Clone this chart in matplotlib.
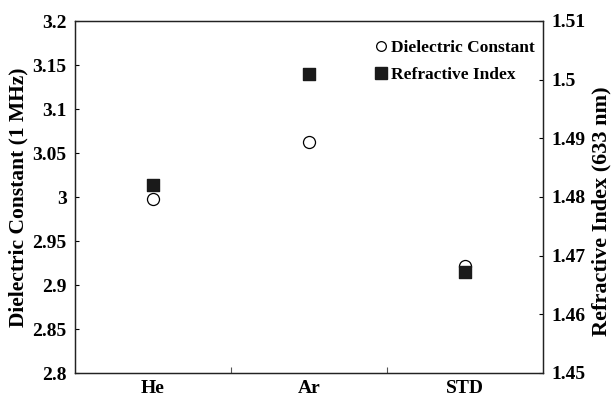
import matplotlib.pyplot as plt
from matplotlib.lines import Line2D

# gases / films
samples = ['He', 'Ar', 'STD']
dielectric_const = [2.998, 3.062, 2.922]   # at 1 MHz
refractive_index = [1.482, 1.501, 1.4673]  # at 633 nm

plt.rcParams['font.family'] = 'Liberation Serif'
plt.rcParams['font.weight'] = 'bold'

fig = plt.figure(figsize=(6.11, 4.0), dpi=100)
ax = fig.add_axes([0.1227, 0.0675, 0.766, 0.88])
ax2 = ax.twinx()

xpos = [i + 0.5 for i in range(len(samples))]

ax.scatter(xpos, dielectric_const, marker='o', s=75, facecolors='white',
           edgecolors='black', linewidths=0.9, zorder=3)
ax2.scatter(xpos, refractive_index, marker='s', s=85, color='#1a1a1a', zorder=2)

ax.set_xlim(0, 3)
ax.set_ylim(2.8, 3.2)
ax2.set_ylim(1.45, 1.51)

ax.set_yticks([2.8, 2.85, 2.9, 2.95, 3.0, 3.05, 3.1, 3.15, 3.2])
ax.set_yticklabels(['2.8', '2.85', '2.9', '2.95', '3', '3.05', '3.1', '3.15', '3.2'])
ax2.set_yticks([1.45, 1.46, 1.47, 1.48, 1.49, 1.5, 1.51])
ax2.set_yticklabels(['1.45', '1.46', '1.47', '1.48', '1.49', '1.5', '1.51'])

# category separators on the bottom axis, names centred below
ax.set_xticks([1, 2])
ax.set_xticklabels([])
ax.set_xticks(xpos, minor=True)
ax.set_xticklabels(samples, minor=True)
ax.tick_params(axis='x', which='minor', length=0, pad=5, labelsize=14)
ax.tick_params(axis='x', which='major', direction='in', length=4, width=0.8, color='#555555')

ax.tick_params(axis='y', direction='in', length=3, width=0.8, labelsize=14, pad=6)
ax2.tick_params(axis='y', direction='in', length=3, width=0.8, labelsize=14, pad=6)

for a in (ax, ax2):
    for sp in a.spines.values():
        sp.set_linewidth(0.9)
        sp.set_color('#222222')

ax.set_ylabel('Dielectric Constant (1 MHz)', fontsize=15.5, fontweight='bold', labelpad=3)
ax2.set_ylabel('Refractive Index (633 nm)', fontsize=16, fontweight='bold')
ax2.yaxis.set_label_coords(1.103, 0.46)

handles = [
    Line2D([], [], marker='o', linestyle='none', markerfacecolor='white',
           markeredgecolor='black', markersize=7, markeredgewidth=0.9),
    Line2D([], [], marker='s', linestyle='none', color='#1a1a1a', markersize=8),
]
ax2.legend(handles, ['Dielectric Constant', 'Refractive Index'], loc='upper right',
           bbox_to_anchor=(1.0, 0.97), frameon=False, fontsize=12.5,
           handletextpad=0.0, labelspacing=0.58, borderaxespad=0.1, handlelength=1.1)

fig.savefig('out.png', dpi=100)
